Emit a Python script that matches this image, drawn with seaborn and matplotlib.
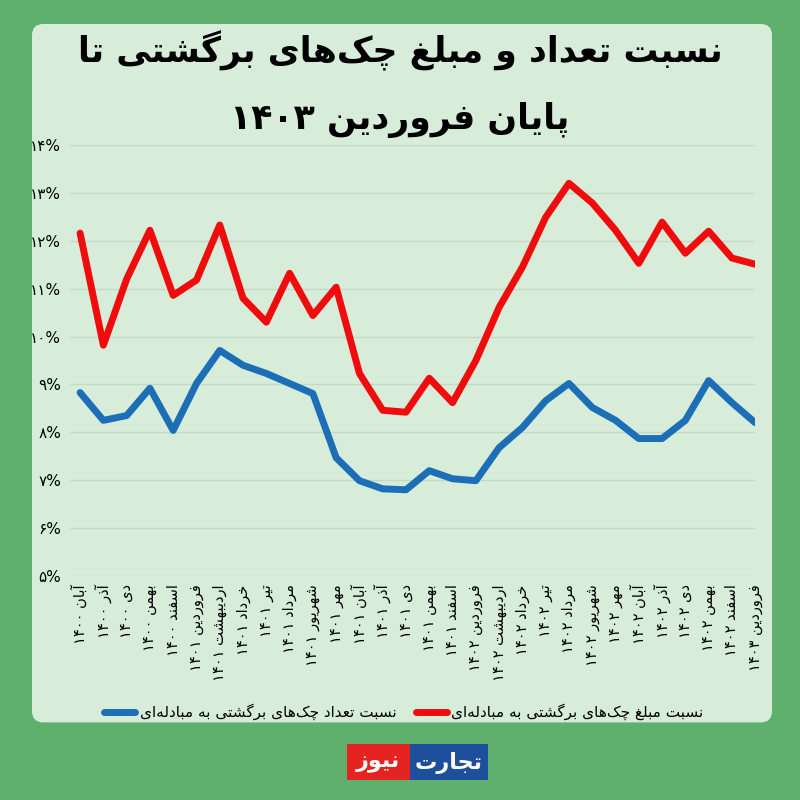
import numpy as np
import pandas as pd
import matplotlib.pyplot as plt
import seaborn as sns
from matplotlib.patches import FancyBboxPatch, Rectangle

# data (percent)
months = ["آبان ۱۴۰۰", "آذر ۱۴۰۰", "دی ۱۴۰۰", "بهمن ۱۴۰۰", "اسفند ۱۴۰۰",
          "فروردین ۱۴۰۱", "اردیبهشت ۱۴۰۱", "خرداد ۱۴۰۱", "تیر ۱۴۰۱", "مرداد ۱۴۰۱",
          "شهریور ۱۴۰۱", "مهر ۱۴۰۱", "آبان ۱۴۰۱", "آذر ۱۴۰۱", "دی ۱۴۰۱",
          "بهمن ۱۴۰۱", "اسفند ۱۴۰۱", "فروردین ۱۴۰۲", "اردیبهشت ۱۴۰۲", "خرداد ۱۴۰۲",
          "تیر ۱۴۰۲", "مرداد ۱۴۰۲", "شهریور ۱۴۰۲", "مهر ۱۴۰۲", "آبان ۱۴۰۲",
          "آذر ۱۴۰۲", "دی ۱۴۰۲", "بهمن ۱۴۰۲", "اسفند ۱۴۰۲", "فروردین ۱۴۰۳"]

amount_ratio = [12.16, 9.82, 11.2, 12.22, 10.86, 11.18, 12.33, 10.8, 10.3, 11.32,
                10.44, 11.03, 9.23, 8.46, 8.42, 9.13, 8.62, 9.5, 10.61, 11.45,
                12.49, 13.2, 12.79, 12.22, 11.53, 12.39, 11.74, 12.2, 11.64, 11.51]

count_ratio = [8.83, 8.25, 8.35, 8.92, 8.04, 9.02, 9.71, 9.4, 9.23, 9.02,
               8.81, 7.47, 6.99, 6.82, 6.8, 7.2, 7.03, 6.99, 7.68, 8.1,
               8.66, 9.02, 8.52, 8.25, 7.87, 7.87, 8.25, 9.08, 8.62, 8.2]

title_1 = "نسبت تعداد و مبلغ چک‌های برگشتی تا"
title_2 = "پایان فروردین ۱۴۰۳"
label_count = "نسبت تعداد چک‌های برگشتی به مبادله‌ای"
label_amount = "نسبت مبلغ چک‌های برگشتی به مبادله‌ای"
yticks = list(range(5, 15))

# arabic presentation forms: isolated, final, initial, medial
FORMS = {
    "ا": "\uFE8D\uFE8E", "آ": "\uFE81\uFE82",
    "ب": "\uFE8F\uFE90\uFE91\uFE92", "پ": "\uFB56\uFB57\uFB58\uFB59",
    "ت": "\uFE95\uFE96\uFE97\uFE98", "ج": "\uFE9D\uFE9E\uFE9F\uFEA0",
    "چ": "\uFB7A\uFB7B\uFB7C\uFB7D", "خ": "\uFEA5\uFEA6\uFEA7\uFEA8",
    "د": "\uFEA9\uFEAA", "ذ": "\uFEAB\uFEAC", "ر": "\uFEAD\uFEAE", "ز": "\uFEAF\uFEB0",
    "س": "\uFEB1\uFEB2\uFEB3\uFEB4", "ش": "\uFEB5\uFEB6\uFEB7\uFEB8",
    "ع": "\uFEC9\uFECA\uFECB\uFECC", "غ": "\uFECD\uFECE\uFECF\uFED0",
    "ف": "\uFED1\uFED2\uFED3\uFED4", "ک": "\uFB8E\uFB8F\uFB90\uFB91",
    "گ": "\uFB92\uFB93\uFB94\uFB95", "ل": "\uFEDD\uFEDE\uFEDF\uFEE0",
    "م": "\uFEE1\uFEE2\uFEE3\uFEE4", "ن": "\uFEE5\uFEE6\uFEE7\uFEE8",
    "و": "\uFEED\uFEEE", "ه": "\uFEE9\uFEEA\uFEEB\uFEEC",
    "ی": "\uFBFC\uFBFD\uFBFE\uFBFF",
}
DIGITS = "۰۱۲۳۴۵۶۷۸۹0123456789%"


def fa(text):
    # shape persian letters and put them in visual (left to right) order
    out = []
    for i, c in enumerate(text):
        if c not in FORMS:
            if c != "\u200c":
                out.append(c)
            continue
        prev = text[i - 1] if i > 0 else ""
        nxt = text[i + 1] if i + 1 < len(text) else ""
        f = FORMS[c]
        join_prev = prev in FORMS and len(FORMS[prev]) == 4
        join_next = len(f) == 4 and nxt in FORMS
        if join_prev and join_next:
            out.append(f[3])
        elif join_prev:
            out.append(f[1])
        elif join_next:
            out.append(f[2])
        else:
            out.append(f[0])
    out = out[::-1]
    # numbers stay left to right
    res, run = [], []
    for c in out:
        if c in DIGITS:
            run.append(c)
        else:
            res.extend(run[::-1])
            run = []
            res.append(c)
    res.extend(run[::-1])
    return "".join(res)


def fa_num(n):
    return "".join("۰۱۲۳۴۵۶۷۸۹"[int(d)] for d in str(n)) + "%"


df = pd.DataFrame({"idx": range(len(months)), "amount": amount_ratio, "count": count_ratio})

sns.set_theme(style="white")
plt.rcParams["font.family"] = ["DejaVu Sans"]

fig = plt.figure(figsize=(8, 8), dpi=100)
fig.patch.set_facecolor("#5fb06d")

# light panel
panel = FancyBboxPatch((0.040, 0.097), 0.925, 0.873, boxstyle="round,pad=0,rounding_size=0.014",
                       transform=fig.transFigure, facecolor="#d7edda", edgecolor="none", zorder=-5)
fig.patches.append(panel)

ax = fig.add_axes([0.087, 0.28, 0.857, 0.53875])
ax.set_zorder(3)
ax.set_facecolor("none")

sns.lineplot(data=df, x="idx", y="count", ax=ax, color="#1c6eb7", linewidth=5,
             label=fa(label_count), solid_capstyle="round", solid_joinstyle="round")
sns.lineplot(data=df, x="idx", y="amount", ax=ax, color="#f00c0c", linewidth=5,
             label=fa(label_amount), solid_capstyle="round", solid_joinstyle="round")

ax.set_ylim(5, 14)
ax.set_xlim(-0.45, 29.0)
ax.set_yticks(yticks)
ax.set_yticklabels([fa_num(v) for v in yticks], fontsize=11, color="black")
ax.set_xticks(df["idx"])
ax.set_xticklabels([fa(m) for m in months], rotation=90, fontsize=10.5, color="black")
ax.tick_params(axis="both", length=0, pad=6)
ax.yaxis.grid(True, color="#c3d9c6", linewidth=1)
ax.set_axisbelow(True)
for s in ax.spines.values():
    s.set_visible(False)
ax.set_xlabel("")
ax.set_ylabel("")

leg = ax.legend(loc="center", bbox_to_anchor=(0.505, 0.11), bbox_transform=fig.transFigure,
                ncol=2, frameon=False, fontsize=11, handlelength=2.0, columnspacing=1.3,
                handletextpad=0.3)
for t in leg.get_texts():
    t.set_color("black")

fig.text(0.5, 0.937, fa(title_1), ha="center", va="center", fontsize=25,
         fontweight="bold", color="black")
fig.text(0.5, 0.85, fa(title_2), ha="center", va="center", fontsize=25,
         fontweight="bold", color="black")

# logo
fig.patches.append(Rectangle((0.434, 0.025), 0.078, 0.045, transform=fig.transFigure,
                             facecolor="#e52421", edgecolor="none"))
fig.patches.append(Rectangle((0.512, 0.025), 0.098, 0.045, transform=fig.transFigure,
                             facecolor="#1d4f9c", edgecolor="none"))
fig.text(0.473, 0.046, fa("نیوز"), ha="center", va="center", fontsize=16,
         fontweight="bold", color="white")
fig.text(0.561, 0.046, fa("تجارت"), ha="center", va="center", fontsize=16,
         fontweight="bold", color="white")

fig.savefig("out.png", dpi=100, facecolor=fig.get_facecolor())
